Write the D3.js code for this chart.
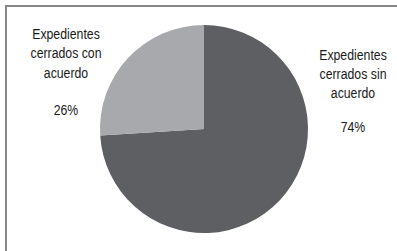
<!DOCTYPE html>
<html>
<head>
<meta charset="utf-8">
<script src="https://cdn.jsdelivr.net/npm/d3@7"></script>
<style>
  body { margin: 0; background: #fff; }
  text { font-family: "Liberation Sans", Arial, sans-serif; fill: #1a1a1a; }
</style>
</head>
<body>
<div id="container"></div>
<script>
/* CONSTANTS AND GLOBALS */
const width = 397,
  height = 251,
  cx = 204,
  cy = 129,
  radius = 104;

/* DATA */
const categories = ["Expedientes cerrados sin acuerdo", "Expedientes cerrados con acuerdo"];
const values = [74, 26];
const labelLines = [
  ["Expedientes", "cerrados sin", "acuerdo"],
  ["Expedientes", "cerrados con", "acuerdo"]
];
const colors = ["#5e5f63", "#a7a9ac"];

const data = categories.map((c, i) => ({ name: c, value: values[i], lines: labelLines[i] }));

/* HTML ELEMENTS */
const svg = d3.select("#container")
  .append("svg")
  .attr("width", width)
  .attr("height", height);

// frame (only top and left edges show)
svg.append("line")
  .attr("x1", 5).attr("y1", 6).attr("x2", width).attr("y2", 6)
  .attr("stroke", "#878787").attr("stroke-width", 2);
svg.append("line")
  .attr("x1", 6).attr("y1", 5).attr("x2", 6).attr("y2", height)
  .attr("stroke", "#878787").attr("stroke-width", 2);

const colorScale = d3.scaleOrdinal()
  .domain(categories)
  .range(colors);

const pie = d3.pie()
  .sort(null)
  .value(d => d.value);

const arc = d3.arc()
  .innerRadius(0)
  .outerRadius(radius);

const g = svg.append("g")
  .attr("transform", `translate(${cx},${cy})`);

g.selectAll("path")
  .data(pie(data))
  .join("path")
  .attr("d", arc)
  .attr("fill", d => colorScale(d.data.name));

// labels (narrow look: squeeze horizontally)
const labelPos = [
  { x: 353, y: 60, step: 19, pct: 72 },
  { x: 66, y: 39, step: 19.5, pct: 76 }
];

data.forEach((d, i) => {
  const p = labelPos[i];
  const lg = svg.append("g")
    .attr("transform", `translate(${p.x},${p.y}) scale(0.82,1)`);
  const t = lg.append("text")
    .attr("text-anchor", "middle")
    .attr("font-size", 15);
  d.lines.forEach((line, j) => {
    t.append("tspan")
      .attr("x", 0)
      .attr("y", j * p.step)
      .text(line);
  });
  lg.append("text")
    .attr("text-anchor", "middle")
    .attr("font-size", 15)
    .attr("x", 0)
    .attr("y", p.pct)
    .text(d.value + "%");
});
</script>
</body>
</html>
